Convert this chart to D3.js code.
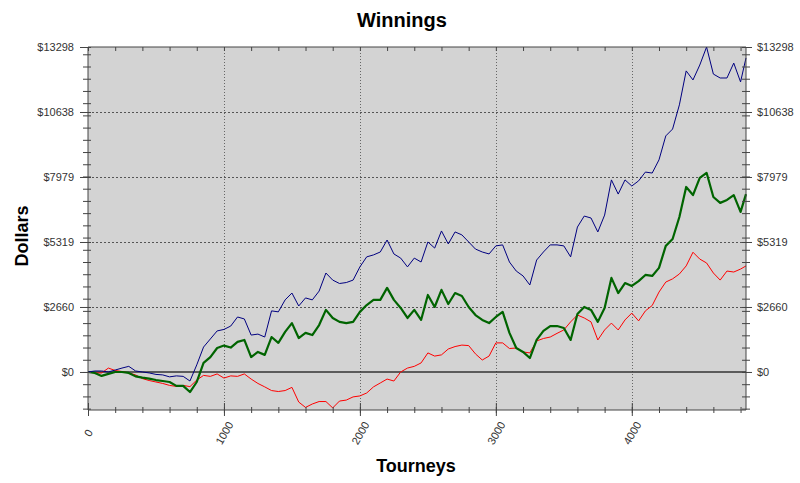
<!DOCTYPE html>
<meta charset="utf-8">
<style>body { margin: 0; background: #fff; }</style>
<svg width="800" height="483" font-family="Arial, 'Liberation Sans', sans-serif"></svg>
<script src="https://cdn.jsdelivr.net/npm/d3@7"></script>
<script>

// values, one every 50 tourneys, last one at 4840
var tourneys = d3.range(0, 4801, 50).concat([4840]);

var blue = [0,40,40,0,80,160,230,40,0,-40,
  -100,-120,-200,-160,-180,-370,290,1020,1350,1680,
  1740,1880,2250,2170,1510,1550,1430,2500,2460,2950,
  3230,2700,3030,2950,3310,4050,3760,3620,3660,3760,
  4300,4710,4790,4910,5400,4830,4660,4300,4660,4500,
  5320,5070,5770,5240,5730,5610,5320,5030,4910,4830,
  5160,5200,4500,4130,3930,3560,4580,4910,5200,5200,
  5160,4710,5930,6380,6300,5730,6420,7860,7280,7860,
  7610,7820,8180,8140,8680,9660,9940,10930,12320,11950,
  12560,13298,12190,12030,12030,12640,11870,12850];

var green = [0,-40,-160,-80,0,0,-40,-180,-230,-270,
  -330,-370,-410,-570,-570,-820,-410,370,610,980,
  1080,1000,1230,1310,610,820,700,1430,1190,1640,
  2000,1390,1600,1510,1920,2540,2210,2050,2000,2050,
  2460,2740,2950,2950,3440,2950,2620,2210,2540,2130,
  3150,2660,3360,2780,3230,3110,2660,2330,2130,2000,
  2250,2460,1600,980,820,570,1310,1680,1880,1880,
  1800,1310,2370,2660,2540,2050,2620,3850,3230,3640,
  3520,3720,3970,3930,4260,5160,5440,6340,7570,7240,
  7940,8150,7160,6920,7040,7240,6550,7280];

var red = [0,-40,-40,160,60,20,-40,-120,-270,-350,
  -410,-470,-550,-590,-550,-600,-330,-140,-180,-80,
  -250,-160,-180,-80,-290,-470,-610,-760,-800,-760,
  -630,-1230,-1450,-1310,-1210,-1210,-1470,-1190,-1150,-1020,
  -980,-860,-610,-450,-290,-370,0,160,230,370,
  780,650,700,940,1040,1100,1080,740,490,650,
  1190,1190,960,980,820,780,1270,1370,1430,1580,
  1720,2050,2330,2210,2050,1310,1720,2000,1720,2130,
  2410,2090,2500,2720,3270,3680,3810,4010,4340,4900,
  4620,4460,4050,3760,4130,4090,4210,4340];

var yMin = -1556, yMax = 13298;
var yTicks = [0, 2659.6, 5319.2, 7978.8, 10638.4, 13298];
var xTicks = [0, 1000, 2000, 3000, 4000];

var svg = d3.select("svg"),
    plotLeft = 88, plotRight = 746, plotTop = 47, plotBottom = 410,
    axisColor = "#444";

var x = d3.scaleLinear().domain([0, 4840]).range([plotLeft, plotRight]);
var y = d3.scaleLinear().domain([yMin, yMax]).range([plotBottom, plotTop]);

var yMinor = d3.range(-1500, 13001, 500),
    xMinor = d3.range(0, 4801, 200);

svg.append("rect")
    .attr("x", plotLeft).attr("y", plotTop)
    .attr("width", plotRight - plotLeft).attr("height", plotBottom - plotTop)
    .attr("fill", "#d3d3d3");

// dotted grid
svg.append("g").selectAll("line")
    .data(yTicks.slice(1, 5))
  .enter().append("line")
    .attr("x1", plotLeft).attr("x2", plotRight)
    .attr("y1", function(d) { return Math.round(y(d)) + 0.5; })
    .attr("y2", function(d) { return Math.round(y(d)) + 0.5; })
    .attr("stroke", "#555").attr("stroke-dasharray", "2,2");

svg.append("g").selectAll("line")
    .data(xTicks.slice(1))
  .enter().append("line")
    .attr("y1", plotTop).attr("y2", plotBottom)
    .attr("x1", function(d) { return Math.round(x(d)) + 0.5; })
    .attr("x2", function(d) { return Math.round(x(d)) + 0.5; })
    .attr("stroke", "#666").attr("stroke-dasharray", "1,2");

// zero line
svg.append("line")
    .attr("x1", plotLeft).attr("x2", plotRight)
    .attr("y1", y(0)).attr("y2", y(0))
    .attr("stroke", "#333").attr("stroke-width", 1.5);

var line = d3.line()
    .x(function(d) { return x(d[0]); })
    .y(function(d) { return y(d[1]); });

[[red, "#ff0000", 1], [green, "#006400", 2.2], [blue, "#000080", 1]].forEach(function(s) {
  svg.append("path")
      .datum(tourneys.map(function(t, i) { return [t, s[0][i]]; }))
      .attr("fill", "none")
      .attr("stroke", s[1])
      .attr("stroke-width", s[2])
      .attr("stroke-linejoin", "round")
      .attr("d", line);
});

function fmt(d) { return "$" + Math.round(d); }

function styleAxis(g) {
  g.select(".domain").remove();
  g.selectAll("line").attr("stroke", axisColor);
  g.selectAll("text").attr("fill", "#333").attr("font-size", 11);
}

// left axis
svg.append("g").attr("transform", "translate(" + plotLeft + ",0)")
    .call(d3.axisLeft(y).tickValues(yMinor).tickSize(5).tickFormat(""))
    .call(styleAxis)
    .selectAll("line").attr("x1", 3);
svg.append("g").attr("transform", "translate(" + plotLeft + ",0)")
    .call(d3.axisLeft(y).tickValues(yTicks).tickSize(8).tickPadding(6).tickFormat(fmt))
    .call(styleAxis)
    .selectAll("line").attr("x1", 3);

// right axis
svg.append("g").attr("transform", "translate(" + plotRight + ",0)")
    .call(d3.axisRight(y).tickValues(yMinor).tickSize(4).tickFormat(""))
    .call(styleAxis)
    .selectAll("line").attr("x1", -4);
svg.append("g").attr("transform", "translate(" + plotRight + ",0)")
    .call(d3.axisRight(y).tickValues(yTicks).tickSize(6).tickPadding(5).tickFormat(fmt))
    .call(styleAxis)
    .selectAll("line").attr("x1", -4);

// bottom axis
svg.append("g").attr("transform", "translate(0," + plotBottom + ")")
    .call(d3.axisBottom(x).tickValues(xMinor).tickSize(3).tickFormat(""))
    .call(styleAxis)
    .selectAll("line").attr("y1", -3);
var xAxis = svg.append("g").attr("transform", "translate(0," + plotBottom + ")")
    .call(d3.axisBottom(x).tickValues(xTicks).tickSize(6).tickFormat(d3.format("d")))
    .call(styleAxis);
xAxis.selectAll("line").attr("y1", -7);
xAxis.selectAll("text")
    .attr("y", null).attr("dy", "0.35em")
    .attr("text-anchor", "middle")
    .attr("transform", "translate(0,23) rotate(-60)");

// top axis
svg.append("g").attr("transform", "translate(0," + plotTop + ")")
    .call(d3.axisTop(x).tickValues(xMinor).tickSize(-4).tickFormat(""))
    .call(styleAxis);

// frame
svg.append("path")
    .attr("d", "M" + plotLeft + "," + plotBottom + "V" + plotTop + "H" + plotRight + "V" + plotBottom + "H" + plotLeft)
    .attr("fill", "none").attr("stroke", axisColor);

svg.append("text")
    .attr("x", 402).attr("y", 27)
    .attr("text-anchor", "middle")
    .attr("font-size", 20).attr("font-weight", "bold")
    .text("Winnings");

svg.append("text")
    .attr("x", 416).attr("y", 472)
    .attr("text-anchor", "middle")
    .attr("font-size", 18).attr("font-weight", "bold")
    .text("Tourneys");

svg.append("text")
    .attr("transform", "translate(28,236) rotate(-90)")
    .attr("text-anchor", "middle")
    .attr("font-size", 18).attr("font-weight", "bold")
    .text("Dollars");

</script>
